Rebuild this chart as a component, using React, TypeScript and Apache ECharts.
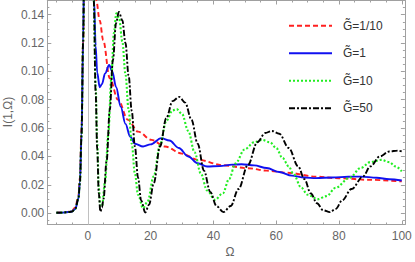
import React, { useEffect, useRef } from "react";
import * as echarts from "echarts";

// ---- data ----
const omegaRise = [-10, -8, -6, -5, -4, -3, -2.5, -2, -1.5, -1, -0.5, 0, 0.5, 1, 1.5];
const valRise = [0.0003, 0.0004, 0.0008, 0.0012, 0.003, 0.01, 0.022, 0.055, 0.12, 0.21, 0.3, 0.34, 0.32, 0.27, 0.2];
const valRiseRed = [0.0003, 0.0005, 0.001, 0.0018, 0.004, 0.012, 0.025, 0.06, 0.12, 0.2, 0.28, 0.33, 0.33, 0.3, 0.25];

const omegaRedTail = [2.2, 2.7, 3.8, 4.9, 7, 9.65, 12.8, 16, 20.3, 24.6, 30, 35.2, 43, 51, 57, 63.5, 72.7, 80, 90, 100];
const valRedTail = [0.18, 0.15, 0.136, 0.122, 0.0952, 0.0799, 0.0658, 0.0575, 0.0517, 0.047, 0.042, 0.0376, 0.0338, 0.0317, 0.03, 0.0285, 0.0258, 0.0246, 0.0235, 0.0224];

const omegaBlueTail = [2, 2.5, 3, 3.8, 4.5, 5.5, 6.8, 7.8, 9, 10.5, 12, 13.5, 15, 17.6, 20, 23.4, 26, 29, 32, 35, 38, 42, 46, 49, 53, 57, 61, 65, 69, 72.7, 78, 83, 87, 92, 96, 100];
const valBlueTail = [0.15, 0.118, 0.099, 0.0888, 0.091, 0.0985, 0.1045, 0.1, 0.089, 0.075, 0.063, 0.054, 0.049, 0.047, 0.0485, 0.0529, 0.0512, 0.046, 0.04, 0.0352, 0.0329, 0.0332, 0.0342, 0.0345, 0.0337, 0.0318, 0.029, 0.0265, 0.0251, 0.0247, 0.0252, 0.0257, 0.0258, 0.025, 0.0239, 0.023];

const omegaGreenTail = [1.9, 2.5, 3, 3.5, 4, 4.5, 5.5, 6.5, 7.5, 8.3, 9.1, 10, 11, 12, 13, 14, 15, 16, 17.6, 19, 21, 23, 25, 27, 28.3, 30, 32, 34, 36, 38, 40.5, 43, 45, 47, 50, 53, 55.5, 58, 60, 62, 64, 65.4, 68, 70, 73.3, 76, 79, 83.4, 87, 90, 93.5, 96, 98, 100];
const valGreenTail = [0.15, 0.09, 0.05, 0.018, 0.005, 0.005, 0.022, 0.055, 0.095, 0.127, 0.141, 0.137, 0.121, 0.098, 0.073, 0.049, 0.028, 0.013, 0.0035, 0.008, 0.026, 0.048, 0.065, 0.0725, 0.0734, 0.07, 0.058, 0.043, 0.028, 0.016, 0.0094, 0.014, 0.024, 0.035, 0.045, 0.05, 0.0517, 0.05, 0.046, 0.039, 0.033, 0.028, 0.018, 0.013, 0.0099, 0.012, 0.018, 0.025, 0.032, 0.036, 0.0376, 0.036, 0.033, 0.0295];

const omegaBlackTail = [1.9, 2.5, 3, 3.5, 4, 4.5, 5, 6, 7, 8, 9, 9.9, 11, 12, 13, 14, 15, 16, 17, 18.3, 19.5, 21, 23, 25, 27, 29.1, 31, 33, 35, 37, 39, 41, 43.2, 45.5, 48, 51, 54, 56.5, 58.6, 61, 64, 67, 69, 71, 73, 75, 77.1, 79, 81, 84, 87.7, 90, 93, 96, 98.8, 100];
const valBlackTail = [0.15, 0.085, 0.045, 0.014, 0.001, 0.004, 0.01, 0.037, 0.073, 0.108, 0.134, 0.142, 0.136, 0.12, 0.097, 0.072, 0.047, 0.025, 0.009, 0.0005, 0.006, 0.021, 0.047, 0.067, 0.079, 0.082, 0.078, 0.066, 0.049, 0.03, 0.015, 0.005, 0.0007, 0.005, 0.017, 0.034, 0.05, 0.0565, 0.058, 0.056, 0.046, 0.033, 0.024, 0.014, 0.007, 0.002, 0.0007, 0.003, 0.009, 0.017, 0.026, 0.033, 0.04, 0.0435, 0.0441, 0.0435];

const legendLabels = ["G\u0303=1/10", "G\u0303=1", "G\u0303=10", "G\u0303=50"];
const xMajor = [0, 20, 40, 60, 80, 100];
const xMinor = [-10, -5, 5, 10, 15, 25, 30, 35, 45, 50, 55, 65, 70, 75, 85, 90, 95];
const yMajor = [0, 0.02, 0.04, 0.06, 0.08, 0.1, 0.12, 0.14];
const yMinor = [-0.005, 0.005, 0.01, 0.015, 0.025, 0.03, 0.035, 0.045, 0.05, 0.055, 0.065, 0.07, 0.075, 0.085, 0.09, 0.095, 0.105, 0.11, 0.115, 0.125, 0.13, 0.135, 0.145];

const X_MIN = -12.9;
const X_MAX = 101;
const Y_MIN = -0.008;
const Y_MAX = 0.15;

const zip = (xs: number[], ys: number[]) => xs.map((x, i) => [x, ys[i]]);

const FRAME = "#a0a0a0";
const LABEL = "#666";
const FONT = "Liberation Sans";

export default function App() {
  const ref = useRef<HTMLDivElement>(null);
  useEffect(() => {
    if (!ref.current) return;
    const chart = echarts.init(ref.current, undefined, { renderer: "svg" });

    const xAxisBase = (position: string, custom: number[], len: number, labels: boolean, line: boolean) => ({
      type: "value",
      min: X_MIN,
      max: X_MAX,
      position,
      axisLine: { show: line, onZero: false, lineStyle: { color: FRAME, width: 1 } },
      axisTick: { show: true, inside: true, length: len, customValues: custom, lineStyle: { color: FRAME } },
      axisLabel: labels
        ? { show: true, customValues: custom, color: LABEL, fontSize: 12, fontFamily: FONT, margin: 5 }
        : { show: false },
      splitLine: { show: false },
    });
    const yAxisBase = (position: string, custom: number[], len: number, labels: boolean, line: boolean) => ({
      type: "value",
      min: Y_MIN,
      max: Y_MAX,
      position,
      axisLine: { show: line, onZero: false, lineStyle: { color: FRAME, width: 1 } },
      axisTick: { show: true, inside: true, length: len, customValues: custom, lineStyle: { color: FRAME } },
      axisLabel: labels
        ? {
            show: true,
            customValues: custom,
            color: LABEL,
            fontSize: 12,
            fontFamily: FONT,
            margin: 3,
            formatter: (v: number) => v.toFixed(2),
          }
        : { show: false },
      splitLine: { show: false },
    });

    const lineSeries = (name: string, data: number[][], color: string, width: number, dash: any, z: number) => ({
      name,
      type: "line",
      data,
      xAxisIndex: 0,
      yAxisIndex: 0,
      showSymbol: false,
      smooth: 0.35,
      smoothMonotone: "x",
      clip: true,
      z,
      lineStyle: { color, width, type: dash },
    });

    const legendColors = ["#ff2020", "#1010f0", "#22ee22", "#000000"];
    const legendDash: any[] = [[5, 3], null, [2, 2], [6, 2, 2, 2]];
    const legendY = [25.7, 53.3, 80.7, 108.3];
    const legendGraphics: any[] = [];
    legendLabels.forEach((lbl, i) => {
      legendGraphics.push({
        type: "line",
        shape: { x1: 289, y1: legendY[i], x2: 332, y2: legendY[i] },
        style: { stroke: legendColors[i], lineWidth: 1.9, lineDash: legendDash[i] || undefined },
      });
      legendGraphics.push({
        type: "text",
        x: 343,
        y: legendY[i],
        style: { text: lbl, fill: "#333", font: `12px "${FONT}"`, verticalAlign: "middle", align: "left" },
      });
    });

    const clean = (d: number[][]) => d.filter((p, i, a) => i === 0 || p[0] > a[i - 1][0]);

    chart.setOption({
      animation: false,
      backgroundColor: "#fff",
      grid: { left: 47.3, right: 10.1, top: 0.5, bottom: 37.5, containLabel: false },
      xAxis: [
        xAxisBase("bottom", xMajor, 4, true, true),
        xAxisBase("bottom", xMinor, 2, false, false),
        xAxisBase("top", xMajor, 4, false, true),
        xAxisBase("top", xMinor, 2, false, false),
      ],
      yAxis: [
        yAxisBase("left", yMajor, 4, true, true),
        yAxisBase("left", yMinor, 2, false, false),
        yAxisBase("right", yMajor, 4, false, true),
        yAxisBase("right", yMinor, 2, false, false),
      ],
      series: [
        {
          ...lineSeries("G=1/10", clean(zip(omegaRise.concat(omegaRedTail), valRiseRed.concat(valRedTail))), legendColors[0], 1.9, [5, 3], 2),
          markLine: {
            silent: true,
            symbol: "none",
            label: { show: false },
            lineStyle: { color: "#c0c0c0", width: 1, type: "solid" },
            data: [{ xAxis: 0 }],
            z: 1,
          },
        },
        lineSeries("G=1", clean(zip(omegaRise.concat(omegaBlueTail), valRise.concat(valBlueTail))), legendColors[1], 1.9, "solid", 3),
        lineSeries("G=10", clean(zip(omegaRise.concat(omegaGreenTail), valRise.concat(valGreenTail))), legendColors[2], 2.1, [2, 2], 4),
        lineSeries("G=50", clean(zip(omegaRise.concat(omegaBlackTail), valRise.concat(valBlackTail))), legendColors[3], 1.9, [6, 2, 2, 2], 5),
      ],
      graphic: [
        ...legendGraphics,
        {
          type: "text",
          x: 8,
          y: 112,
          rotation: Math.PI / 2,
          style: { text: "I(1,\u03A9)", fill: LABEL, font: `12px "${FONT}"`, align: "center", verticalAlign: "middle" },
        },
        {
          type: "text",
          x: 230,
          y: 251.5,
          style: { text: "\u03A9", fill: LABEL, font: `12px "${FONT}"`, align: "center", verticalAlign: "middle" },
        },
      ],
    });
    return () => chart.dispose();
  }, []);
  return <div ref={ref} style={{ width: 415, height: 262, position: "absolute", left: 0, top: 0 }} />;
}
